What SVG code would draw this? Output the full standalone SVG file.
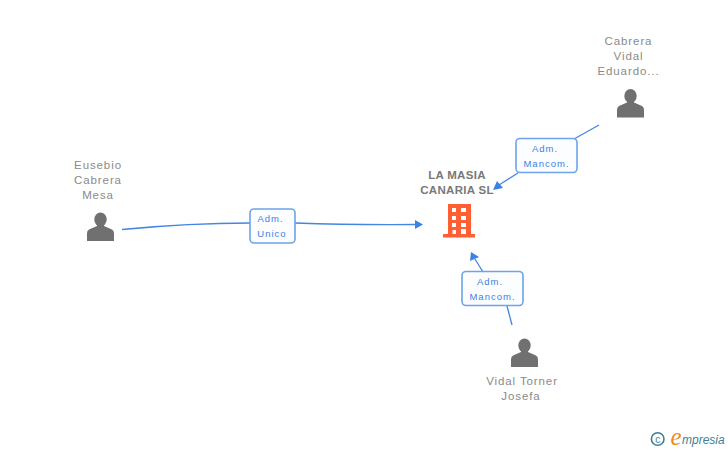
<svg xmlns="http://www.w3.org/2000/svg" width="728" height="450" viewBox="0 0 728 450">
<style>
text{font-family:"Liberation Sans",Arial,sans-serif}
.n{font-size:11.5px;fill:#8a8a8a;text-anchor:middle;letter-spacing:.9px}
.b{font-size:11.5px;fill:#787878;text-anchor:middle;font-weight:bold;letter-spacing:.3px}
.l{font-size:9.5px;fill:#3c82e6;text-anchor:middle;letter-spacing:1px}
.c{fill:none;stroke:#4285e4;stroke-width:1.3}
.a{fill:#3c82e6}
.box{fill:#fbfdff;stroke:#6ca3ea;stroke-width:1.6}
.p{fill:#707070}
</style>
<defs>
<g id="person"><ellipse cx="0" cy="-8" rx="6.200" ry="7" class="p"/><path class="p" d="M-3.500-4V-1.500L-11.500 2Q-13.500 3-13.500 6V13.500H13.500V6Q13.500 3 11.500 2L3.500-1.500V-4Z"/></g>
</defs>
<g id="connectors">
<path class="c" d="M122 229.500Q190 223 250 223"/>
<path class="c" d="M295 223Q350 225 416 224.500"/>
<path class="a" d="M423 224.500L415 220V229Z"/>
<path class="c" d="M599 125L574 139"/>
<path class="c" d="M518 173L499 185"/>
<path class="a" d="M493 190L497 181L503 188Z"/>
<path class="c" d="M483 272L475 259"/>
<path class="a" d="M471 252L470 261L479 257Z"/>
<path class="c" d="M507 306L512 325"/>
</g>
<g id="edge-label-1"><rect class="box" x="250" y="209" width="45" height="34" rx="4"/><text class="l" x="270.500" y="222">Adm.</text><text class="l" x="272" y="237">Unico</text></g>
<g id="edge-label-2"><rect class="box" x="516" y="138.500" width="61" height="34" rx="4"/><text class="l" x="545" y="152">Adm.</text><text class="l" x="546.500" y="167">Mancom.</text></g>
<g id="edge-label-3"><rect class="box" x="462" y="271.500" width="61" height="34" rx="4"/><text class="l" x="490" y="284.500">Adm.</text><text class="l" x="492.500" y="299.500">Mancom.</text></g>
<g id="node-company">
<text class="b" x="457" y="179">LA MASIA</text><text class="b" x="457" y="194">CANARIA SL</text>
<path fill="#ff5f32" fill-rule="evenodd" d="M448 204H471V234H475V237.500H443V234H448ZM452 208V212H456V208ZM461 208V212H466V208ZM452 216V220H456V216ZM461 216V220H466V216ZM452 223V227H456V223ZM461 223V227H466V223ZM452.500 230V234H456V230ZM461 229V234H466V229Z"/>
</g>
<g id="node-eusebio"><text class="n" x="98" y="169">Eusebio</text><text class="n" x="98" y="184">Cabrera</text><text class="n" x="98" y="199">Mesa</text><use href="#person" x="100.500" y="227.500"/></g>
<g id="node-cabrera"><text class="n" x="628.500" y="45">Cabrera</text><text class="n" x="628.500" y="60">Vidal</text><text class="n" x="628.500" y="75">Eduardo...</text><use href="#person" x="630.500" y="104"/></g>
<g id="node-vidal"><use href="#person" x="524.500" y="353.500"/><text class="n" x="522" y="385">Vidal Torner</text><text class="n" x="521" y="400">Josefa</text></g>
<g id="logo"><circle cx="657.700" cy="439" r="6.300" fill="none" stroke="#3f7f96" stroke-width="1.600"/><text x="657.700" y="442.500" font-size="10" fill="#3f7f96" text-anchor="middle">c</text><text x="670.500" y="445" font-size="25" font-style="italic" fill="#f08a1d" style="font-family:'Liberation Serif',serif">e</text><text x="682" y="443.500" font-size="12" font-style="italic" fill="#3f7f96">mpresia</text></g>
</svg>
